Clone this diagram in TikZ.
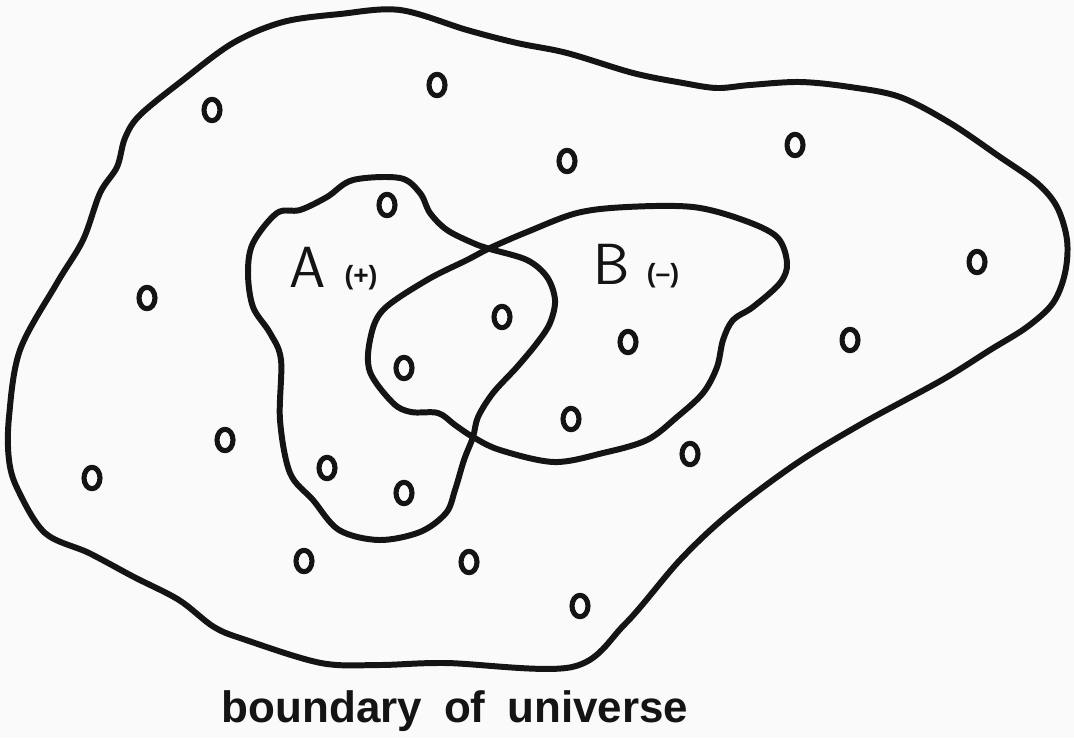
\documentclass[tikz,border=0pt]{standalone}
\usepackage{fontspec}
\setmainfont{Liberation Sans}
\usetikzlibrary{shapes.geometric}
\definecolor{Paper}{HTML}{FAFAFA}
\definecolor{Ink}{HTML}{141414}

\begin{document}
\begin{tikzpicture}[x=0.1mm, y=-0.1mm, line join=round, blob/.style={draw=Ink,line width=1.7pt}, elem/.style={ellipse,draw=Ink,line width=1.45pt,minimum width=1.6mm,minimum height=2.15mm,inner sep=0pt}, setname/.style={text=Ink,inner sep=0pt,font=\sffamily\fontsize{16.5}{18}\selectfont}, sign/.style={text=Ink,inner sep=0pt,font=\bfseries\fontsize{7.5}{8}\selectfont}, caption/.style={text=Ink,inner sep=0pt,anchor=base,font=\bfseries\fontsize{12.5}{14}\selectfont}]
\fill[Paper] (0,0) rectangle (1074,738);
\draw[blob] plot[smooth cycle, tension=0.55] coordinates {(400,10) (467,30) (517,43) (567,53) (633,73) (683,83) (717,88) (750,85) (800,82) (850,87) (900,97) (950,123) (1000,157) (1037,183) (1057,207) (1067,240) (1065,273) (1053,303) (1027,327) (990,350) (942,380) (863,423) (797,463) (730,513) (680,560) (625,624) (572,667) (446,663) (379,665) (321,663) (246,640) (214,627) (179,600) (134,577) (89,553) (45,533) (18,490) (9,460) (9,417) (20,350) (57,283) (83,240) (100,193) (117,167) (125,138) (140,115) (183,80) (233,43) (283,22) (340,14)};
\draw[blob] plot[smooth cycle, tension=0.55] coordinates {(400,178) (420,193) (430,213) (447,230) (473,243) (490,249) (527,260) (547,277) (555,300) (550,323) (537,343) (517,367) (493,393) (478,417) (473,437) (464,460) (455,490) (446,513) (420,532) (379,540) (339,530) (313,500) (290,473) (280,420) (281,360) (270,333) (253,307) (248,273) (253,243) (277,213) (300,210) (327,197) (353,180)};
\draw[blob] plot[smooth cycle, tension=0.55] coordinates {(490,248) (527,232) (577,213) (627,207) (693,207) (743,220) (777,237) (787,263) (780,283) (753,307) (733,320) (723,340) (717,367) (703,393) (677,417) (647,440) (603,453) (554,462) (500,450) (473,437) (455,425) (438,413) (411,412) (393,403) (370,372) (370,340) (383,310) (427,280) (467,260)};
\node[setname] (A) at (308,267) {A};\node[sign] (Asign) at (361,278) {(+)};
\node[setname] (B) at (612,264) {B};\node[sign] (Bsign) at (663,276) {(–)};
\node[elem] (o1) at (212,110) {};\node[elem] (o2) at (437,85) {};\node[elem] (o3) at (567,161) {};\node[elem] (o4) at (795,145) {};\node[elem] (o5) at (387,205) {};
\node[elem] (o6) at (977,262) {};\node[elem] (o7) at (147,298) {};\node[elem] (o8) at (502,317) {};\node[elem] (o9) at (628,342) {};\node[elem] (o10) at (850,340) {};
\node[elem] (o11) at (404,368) {};\node[elem] (o12) at (571,419) {};\node[elem] (o13) at (225,440) {};\node[elem] (o14) at (690,454) {};\node[elem] (o15) at (92,478) {};
\node[elem] (o16) at (327,468) {};\node[elem] (o17) at (404,493) {};\node[elem] (o18) at (304,561) {};\node[elem] (o19) at (469,562) {};\node[elem] (o20) at (580,606) {};
\node[caption] (cap) at (455,722) {boundary\hspace{0.5em}of\hspace{0.5em}universe};
\end{tikzpicture}
\end{document}
